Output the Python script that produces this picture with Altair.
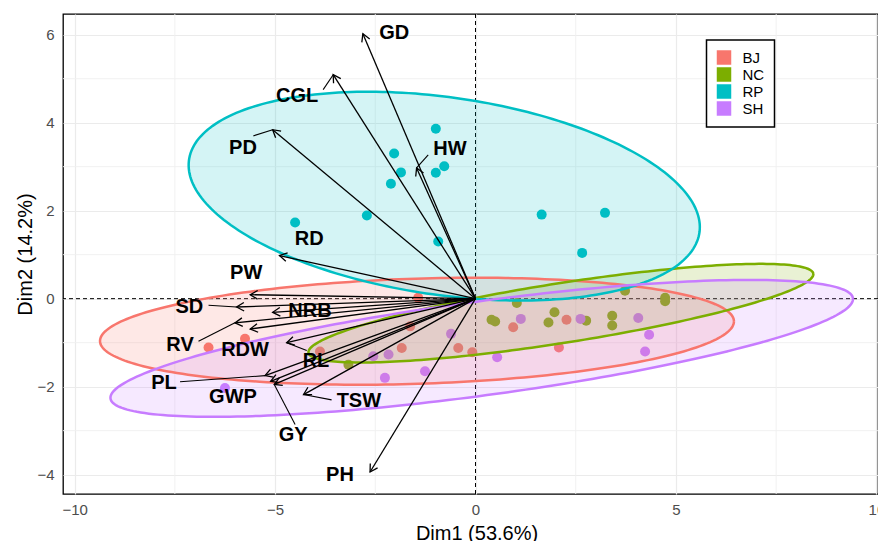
import numpy as np
import pandas as pd
import altair as alt

# ---- groups -------------------------------------------------------------
groups = ["BJ", "NC", "RP", "SH"]
group_colors = ["#F8766D", "#7CAE00", "#00BFC4", "#C77CFF"]

# ---- individuals (PCA scores) -------------------------------------------
bj_x = [-6.66, -5.75, -1.43, -1.63, -1.84, -0.43, -0.08, -3.88, 0.94, 2.27, 2.08]
bj_y = [-1.11, -0.91, 0.02, -0.63, -1.12, -1.12, -1.22, -1.20, -0.65, -0.48, -1.11]

nc_x = [-3.17, 0.40, 0.49, 1.03, 1.97, 1.82, 2.76, 3.41, 3.41, 3.73, 4.73, 4.73]
nc_y = [-1.50, -0.48, -0.52, -0.10, -0.31, -0.54, -0.50, -0.39, -0.61, 0.18, 0.02, -0.06]

rp_x = [-0.99, -2.03, -1.86, -2.11, -0.99, -0.78, -2.71, -4.50, -0.93, 1.65, 2.66, 3.23]
rp_y = [3.86, 3.30, 2.87, 2.61, 2.86, 3.01, 1.89, 1.73, 1.30, 1.91, 1.04, 1.95]

sh_x = [-6.25, -2.55, -2.17, -2.26, -1.26, -0.61, 1.13, 0.54, 2.62, 4.06, 4.33, 4.23]
sh_y = [-2.03, -1.31, -1.27, -1.80, -1.65, -0.80, -0.46, -1.33, -0.46, -0.44, -0.82, -1.20]

# ---- concentration ellipses: centre, semi-axes, rotation (deg) ----------
ell_cx = [-1.46, 2.13, -0.78, 0.155]
ell_cy = [-0.74, -0.33, 2.33, -1.13]
ell_a = [7.91, 6.36, 6.42, 9.33]
ell_b = [1.195, 0.68, 2.25, 1.07]
ell_deg = [1.65, 8.1, -7.2, 7.0]

# ---- variables (loadings arrows) ----------------------------------------
var_names = ["GD", "CGL", "PD", "HW", "RD", "PW", "SD", "NRB",
             "RV", "RDW", "RL", "PL", "GWP", "GY", "TSW", "PH"]
var_x = [-2.81, -3.55, -5.06, -1.47, -4.89, -5.62, -5.96, -5.06,
         -6.00, -5.62, -4.71, -5.25, -5.11, -5.02, -4.29, -2.63]
var_y = [6.02, 5.09, 3.84, 2.97, 0.98, 0.09, -0.19, -0.31,
         -0.55, -0.69, -1.00, -1.75, -1.88, -1.95, -2.18, -3.94]
# repelled label positions
lab_x = [-2.03, -4.45, -5.80, -0.64, -4.15, -5.72, -7.14, -4.13,
         -7.37, -5.75, -3.98, -7.77, -6.05, -4.55, -2.91, -3.38]
lab_y = [6.03, 4.61, 3.43, 3.40, 1.35, 0.59, -0.18, -0.28,
         -1.06, -1.16, -1.42, -1.92, -2.23, -3.11, -2.32, -4.01]
# start of the connector segment for labels pushed away from their arrow
lead_x = [None, -3.80, -5.54, -1.18, None, None, -6.66, None,
          -6.91, None, -4.21, -7.37, None, -4.50, -3.59, None]
lead_y = [None, 4.75, 3.70, 3.27, None, None, -0.15, None,
          -0.97, None, -1.18, -1.89, None, -2.86, -2.30, None]

x_ticks = [-10, -5, 0, 5, 10]
y_ticks = [-4, -2, 0, 2, 4, 6]
x_minor = [-7.5, -2.5, 2.5, 7.5]
y_minor = [-3, -1, 1, 3, 5]

# ---- layout --------------------------------------------------------------
W, H = 815, 480
X_DOM = [-10.29, 10.04]
Y_DOM = [-4.44, 6.47]
kx = W / (X_DOM[1] - X_DOM[0])
ky = H / (Y_DOM[1] - Y_DOM[0])

FONT = "Liberation Sans"

xs = alt.Scale(domain=X_DOM, nice=False, zero=False)
ys = alt.Scale(domain=Y_DOM, nice=False, zero=False)
x_axis = alt.Axis(values=x_ticks, title="Dim1 (53.6%)", titleX=413.5, titleY=45,
                  titleBaseline="alphabetic", labelFlush=False, labelPadding=8)
y_axis = alt.Axis(values=y_ticks, title="Dim2 (14.2%)", titleX=-32,
                  titleBaseline="alphabetic", labelPadding=9)


def X(f):
    return alt.X(f"{f}:Q", scale=xs, axis=x_axis)


def Y(f):
    return alt.Y(f"{f}:Q", scale=ys, axis=y_axis)


color_scale = alt.Scale(domain=groups, range=group_colors)

# ---- data tables ---------------------------------------------------------
pts = pd.concat([
    pd.DataFrame({"x": gx, "y": gy, "group": g})
    for g, gx, gy in [("BJ", bj_x, bj_y), ("NC", nc_x, nc_y),
                      ("RP", rp_x, rp_y), ("SH", sh_x, sh_y)]
], ignore_index=True)

outline_rows, fill_rows = [], []
for g, cx, cy, a, b, deg in zip(groups, ell_cx, ell_cy, ell_a, ell_b, ell_deg):
    th = np.radians(deg)
    c, s = np.cos(th), np.sin(th)
    t = np.linspace(0, 2 * np.pi, 241)
    ex = cx + a * np.cos(t) * c - b * np.sin(t) * s
    ey = cy + a * np.cos(t) * s + b * np.sin(t) * c
    for i, (px, py) in enumerate(zip(ex, ey)):
        outline_rows.append({"x": px, "y": py, "group": g, "ord": i})
    # vertical slices of the same ellipse for the shaded interior
    A = c * c / a**2 + s * s / b**2
    B = c * s * (1 / a**2 - 1 / b**2)
    C = s * s / a**2 + c * c / b**2
    det = A * C - B * B
    xh = np.sqrt(C / det)
    u = np.linspace(np.pi, 0, 241)
    dx = xh * np.cos(u)
    disc = np.sqrt(np.clip(C - det * dx**2, 0, None))
    for d, q in zip(dx, disc):
        fill_rows.append({"x": cx + d, "y": cy + (-B * d + q) / C,
                          "y2": cy + (-B * d - q) / C, "group": g})
outline = pd.DataFrame(outline_rows)
fills = pd.DataFrame(fill_rows)

vars_df = pd.DataFrame({"name": var_names, "tx": var_x, "ty": var_y,
                        "lx": lab_x, "ly": lab_y, "sx": lead_x, "sy": lead_y})
vars_df["ox"] = 0.0
vars_df["oy"] = 0.0
vars_df["ang"] = (np.degrees(np.arctan2(-vars_df["ty"] * ky, vars_df["tx"] * kx)) + 360) % 360
leads = vars_df.dropna(subset=["sx", "sy"])

# ---- layers --------------------------------------------------------------
minor_x = alt.Chart(pd.DataFrame({"v": x_minor})).mark_rule(
    color="#EFEFEF", strokeWidth=0.9).encode(x=X("v"))
minor_y = alt.Chart(pd.DataFrame({"v": y_minor})).mark_rule(
    color="#EFEFEF", strokeWidth=0.9).encode(y=Y("v"))

zero_df = pd.DataFrame({"z": [0.0]})
vline = alt.Chart(zero_df).mark_rule(color="black", strokeWidth=1,
                                      strokeDash=[4, 3]).encode(x=X("z"))
hline = alt.Chart(zero_df).mark_rule(color="black", strokeWidth=1,
                                      strokeDash=[4, 3]).encode(y=Y("z"))

points = alt.Chart(pts).mark_circle(size=100, opacity=1).encode(
    x=X("x"), y=Y("y"),
    color=alt.Color("group:N", scale=color_scale, title=None,
                    legend=alt.Legend(symbolType="square")),
)

ell_fill = alt.Chart(fills).mark_area(opacity=0.17).encode(
    x=X("x"), y=Y("y"), y2="y2",
    color=alt.Color("group:N", scale=color_scale, legend=None),
    detail="group:N",
)

ell_line = alt.Chart(outline).mark_line(strokeWidth=2.5).encode(
    x=X("x"), y=Y("y"), order="ord:Q",
    color=alt.Color("group:N", scale=color_scale, legend=None),
    detail="group:N",
)

arrows = alt.Chart(vars_df).mark_rule(color="black", strokeWidth=1.3).encode(
    x=X("ox"), y=Y("oy"), x2="tx", y2="ty")

heads = alt.Chart(vars_df).mark_point(
    shape="M-1,-0.577L0,0L-1,0.577", filled=False, color="black",
    strokeWidth=1.3, size=220, opacity=1,
).encode(x=X("tx"), y=Y("ty"), angle=alt.Angle("ang:Q", scale=None))

leaders = alt.Chart(leads).mark_rule(color="black", strokeWidth=1.1).encode(
    x=X("sx"), y=Y("sy"), x2="tx", y2="ty")

labels = alt.Chart(vars_df).mark_text(
    font=FONT, fontWeight="bold", fontSize=20, color="black",
    align="center", baseline="middle",
).encode(x=X("lx"), y=Y("ly"), text="name:N")

chart = alt.layer(
    minor_x, minor_y, vline, hline, points, ell_fill, ell_line,
    arrows, heads, leaders, labels,
).properties(
    width=W, height=H,
    autosize=alt.AutoSizeParams(type="none"),
    padding={"left": 63, "top": 14, "right": 0, "bottom": 47},
).configure_view(
    stroke="black", strokeWidth=1.3,
).configure_axis(
    grid=True, gridColor="#EBEBEB", gridWidth=1.2,
    domain=False, ticks=False,
    labelFont=FONT, labelFontSize=15, labelColor="#4D4D4D",
    titleFont=FONT, titleFontSize=20, titleFontWeight="normal", titleColor="black",
    labelOverlap=False,
).configure_legend(
    orient="none", legendX=643.5, legendY=26,
    padding=10, strokeColor="black", strokeWidth=1.5, fillColor="white",
    symbolSize=210, symbolStrokeWidth=0, symbolOpacity=1,
    labelFont=FONT, labelFontSize=15, labelColor="black", labelOffset=11,
    rowPadding=1,
)

chart.save("out.html", embed_options={"renderer": "svg", "actions": False})
